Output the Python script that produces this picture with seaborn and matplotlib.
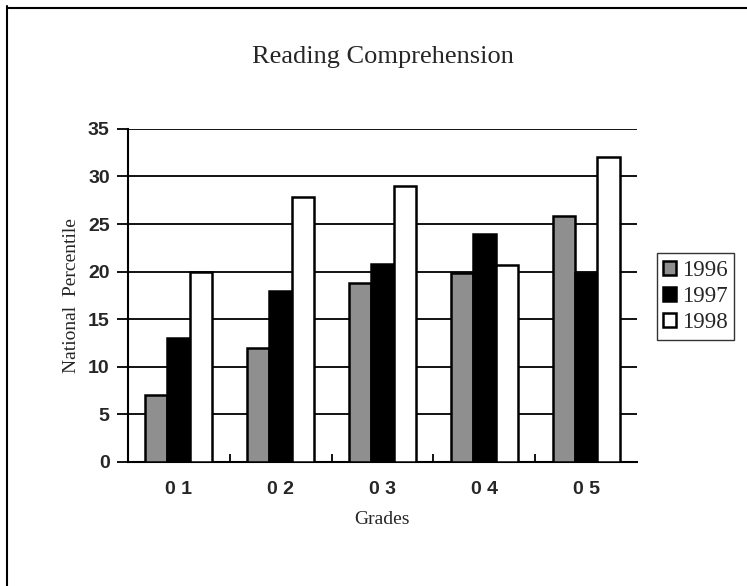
import pandas as pd
import matplotlib.pyplot as plt
import seaborn as sns
from matplotlib.lines import Line2D

grades = ["01", "02", "03", "04", "05"]
years = ["1996", "1997", "1998"]
scores_1996 = [7, 12, 18.8, 19.9, 25.8]
scores_1997 = [13, 18, 20.8, 23.9, 19.9]
scores_1998 = [20, 27.8, 29, 20.7, 32]

data = pd.DataFrame({
    "grade": grades * 3,
    "year": [years[0]] * 5 + [years[1]] * 5 + [years[2]] * 5,
    "score": scores_1996 + scores_1997 + scores_1998,
})

sns.set_style("white")
plt.rcParams["font.family"] = ["Liberation Serif", "DejaVu Serif"]

fig = plt.figure(figsize=(7.47, 5.86), dpi=100)
ax = fig.add_axes([0.171, 0.212, 0.682, 0.568])

palette = {"1996": "#8f8f8f", "1997": "#000000", "1998": "#ffffff"}
sns.barplot(data=data, x="grade", y="score", hue="year", palette=palette,
            width=0.66, edgecolor="black", linewidth=1.8, saturation=1,
            ax=ax, zorder=3, legend=True)

ax.set_ylim(0, 35)
ax.set_yticks(range(0, 36, 5))
ax.yaxis.grid(True, color="black", linewidth=1.3, zorder=0)
ax.set_axisbelow(True)
ax.set_xlim(-0.5, 4.5)

for side in ["top", "right"]:
    ax.spines[side].set_visible(False)
for side in ["left", "bottom"]:
    ax.spines[side].set_color("black")
    ax.spines[side].set_linewidth(1.5)

ax.tick_params(axis="y", direction="out", length=8, width=1.3, color="black",
               left=True, pad=5)
ax.tick_params(axis="x", length=0, pad=14)
ax.set_xticks([0.5, 1.5, 2.5, 3.5], minor=True)
ax.tick_params(axis="x", which="minor", direction="in", length=6, width=1.3,
               bottom=True, color="black")
ax.set_xticks(range(5))
ax.set_xticklabels([" ".join(g) for g in grades])
for lab in ax.get_xticklabels() + ax.get_yticklabels():
    lab.set_family(["Liberation Sans", "DejaVu Sans"])
    lab.set_fontweight("bold")
    lab.set_fontsize(14)

ax.set_xlabel("Grades", fontsize=14, labelpad=9)
ax.set_ylabel("National  Percentile", fontsize=14, labelpad=6)
fig.text(0.512, 0.903, "Reading Comprehension", ha="center", va="center",
         fontsize=19)

leg = ax.legend(loc="upper left", bbox_to_anchor=(0.879, 0.568),
                bbox_transform=fig.transFigure, frameon=True, fancybox=False,
                fontsize=16.5, handlelength=0.55, handleheight=0.6,
                handletextpad=0.25, borderpad=0.3, labelspacing=0.22,
                borderaxespad=0)
leg.get_frame().set_edgecolor("black")
leg.get_frame().set_linewidth(1.0)

# outer frame: left and top edges
fig.add_artist(Line2D([0.009, 0.009], [0, 0.99], transform=fig.transFigure,
                      color="black", linewidth=1.5))
fig.add_artist(Line2D([0.009, 1.0], [0.987, 0.987], transform=fig.transFigure,
                      color="black", linewidth=1.5))

fig.savefig("out.png", dpi=100)
